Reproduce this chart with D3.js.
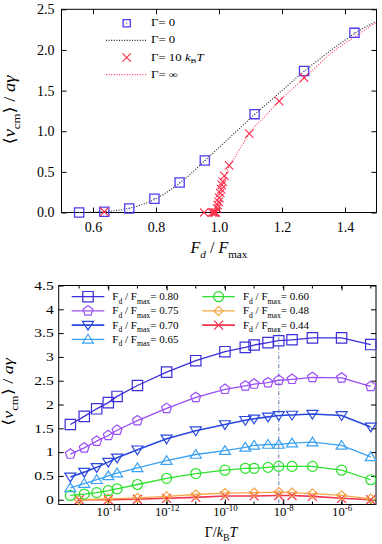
<!DOCTYPE html>
<html>
<head>
  <meta charset="utf-8">
  <style>
    body { margin: 0; background: #fff; }
    svg { display: block; }
    svg text { font-family: "Liberation Serif", "DejaVu Serif", serif; }
    .tick line { stroke: #000; }
  </style>
</head>
<body>
<div id="chart"></div>
<script src="https://d3js.org/d3.v7.min.js"></script>
<script>

  // ---- top panel: <v_cm> vs Fd/Fmax
  var topXTicks = [0.6, 0.8, 1.0, 1.2, 1.4];
  var topYTicks = [0, 0.5, 1.0, 1.5, 2.0, 2.5];

  var sqF = [0.556, 0.636, 0.715, 0.795, 0.875, 0.955, 1.113, 1.27, 1.43];
  var sqV = [0.0, 0.01, 0.05, 0.17, 0.37, 0.64, 1.21, 1.74, 2.21];

  var zeroLineF = [0.5, 0.55, 0.6, 0.65, 0.7, 0.75, 0.8, 0.85, 0.9, 0.95, 1.0, 1.05, 1.1, 1.15, 1.2, 1.25, 1.3, 1.35, 1.4, 1.45, 1.5];
  var zeroLineV = [0.0, 0.0, 0.003, 0.015, 0.04, 0.09, 0.17, 0.29, 0.44, 0.62, 0.80, 0.98, 1.16, 1.33, 1.5, 1.67, 1.83, 1.98, 2.12, 2.25, 2.35];

  var crossF = [0.636, 0.953, 0.978, 0.983, 0.987, 0.99, 0.994, 0.996, 0.999, 1.001, 1.004, 1.007, 1.009, 1.012, 1.017, 1.032, 1.096, 1.191, 1.27];
  var crossV = [0.01, 0.0, 0.0, 0.0, 0.0, 0.0, 0.05, 0.09, 0.13, 0.18, 0.24, 0.285, 0.34, 0.38, 0.45, 0.58, 0.97, 1.37, 1.66];

  var infLineF = [0.984, 0.99, 0.995, 1.0, 1.005, 1.01, 1.02, 1.032, 1.05, 1.064, 1.08, 1.096, 1.15, 1.191, 1.25, 1.3, 1.35, 1.43, 1.5];
  var infLineV = [0.0, 0.05, 0.11, 0.19, 0.27, 0.35, 0.45, 0.57, 0.68, 0.77, 0.87, 0.97, 1.2, 1.37, 1.58, 1.76, 1.94, 2.16, 2.34];

  // ---- bottom panel: <v_cm> vs Gamma/kBT
  var gammaFull = [5e-16, 1.5e-15, 4e-15, 1e-14, 2e-14, 1e-13, 1e-12, 1e-11, 1e-10, 5e-10, 1e-9, 3e-9, 7e-9, 2e-8, 1e-7, 1e-6, 1e-5];
  var gammaSparse = [1e-15, 1e-14, 1e-13, 1e-12, 1e-11, 1e-10, 1e-9, 7e-9, 2e-8, 1e-7, 1e-6, 1e-5];

  var v080 = [1.58, 1.75, 1.91, 2.04, 2.17, 2.40, 2.68, 2.92, 3.11, 3.20, 3.25, 3.30, 3.34, 3.36, 3.40, 3.40, 3.26];
  var v075 = [0.96, 1.09, 1.23, 1.35, 1.46, 1.66, 1.92, 2.15, 2.32, 2.39, 2.43, 2.46, 2.51, 2.53, 2.57, 2.56, 2.38];
  var v070 = [0.48, 0.58, 0.68, 0.79, 0.88, 1.05, 1.28, 1.45, 1.58, 1.67, 1.70, 1.74, 1.77, 1.78, 1.80, 1.77, 1.53];
  var v065 = [0.25, 0.34, 0.42, 0.50, 0.56, 0.67, 0.82, 0.95, 1.03, 1.10, 1.14, 1.16, 1.16, 1.19, 1.21, 1.14, 0.90];
  var v060 = [0.09, 0.12, 0.15, 0.19, 0.23, 0.32, 0.45, 0.55, 0.62, 0.66, 0.66, 0.68, 0.70, 0.70, 0.70, 0.62, 0.42];
  var v048 = [0.0, 0.02, 0.04, 0.07, 0.11, 0.14, 0.15, 0.16, 0.15, 0.13, 0.09, 0.02];
  var v044 = [0.0, 0.0, 0.01, 0.03, 0.05, 0.08, 0.08, 0.09, 0.09, 0.07, 0.03, 0.0];

  var botXMajor = [1e-14, 1e-12, 1e-10, 1e-8, 1e-6];
  var botXMinor = [1e-15, 1e-14, 1e-13, 1e-12, 1e-11, 1e-10, 1e-9, 1e-8, 1e-7, 1e-6, 1e-5];
  var botYTicks = [0, 0.5, 1, 1.5, 2, 2.5, 3, 3.5, 4, 4.5];
  var markedGamma = 7e-9;

  var W = 382, H = 544;

  var svg = d3.select("#chart").append("svg")
      .attr("width", W)
      .attr("height", H);

  // helpers -----------------------------------------------------------
  function rich(sel, parts, size) {
    var shift = 0;
    parts.forEach(function (p) {
      var target = p.sub ? size * 0.3 : (p.sup ? -size * 0.42 : 0);
      var ts = sel.append("tspan").text(p.t).attr("dy", target - shift);
      if (p.sub || p.sup) ts.attr("font-size", size * 0.7);
      if (p.it) ts.attr("font-style", "italic");
      shift = target;
    });
  }

  function stretch(sel, k) {
    sel.each(function () {
      var w = this.getComputedTextLength();
      this.setAttribute("textLength", w * k);
      this.setAttribute("lengthAdjust", "spacingAndGlyphs");
    });
  }

  function markerPath(type, s) {
    if (type === "square") return "M" + (-s) + "," + (-s) + "h" + 2 * s + "v" + 2 * s + "h" + (-2 * s) + "Z";
    if (type === "cross") return "M" + (-s) + "," + (-s) + "L" + s + "," + s + "M" + (-s) + "," + s + "L" + s + "," + (-s);
    if (type === "circle") return d3.symbol(d3.symbolCircle, Math.PI * s * s)();
    if (type === "diamond") return "M0," + (-s) + "L" + s + ",0L0," + s + "L" + (-s) + ",0Z";
    if (type === "triUp") return "M0," + (-s) + "L" + s * 1.1 + "," + s * 0.75 + "L" + (-s * 1.1) + "," + s * 0.75 + "Z";
    if (type === "triDown") return "M0," + s + "L" + s * 1.1 + "," + (-s * 0.75) + "L" + (-s * 1.1) + "," + (-s * 0.75) + "Z";
    if (type === "pentagon") {
      var pts = d3.range(5).map(function (i) {
        var a = -Math.PI / 2 + i * 2 * Math.PI / 5;
        return [s * Math.cos(a), s * Math.sin(a)];
      });
      return "M" + pts.join("L") + "Z";
    }
  }

  function frameAxes(g, x, y, xTicks, yTicks, box, xFmt, yFmt, opts) {
    var ax = g.append("g").attr("transform", "translate(0," + box.bottom + ")")
        .call(d3.axisBottom(x).tickValues(xTicks).tickSizeInner(-opts.tick).tickSizeOuter(0)
            .tickPadding(opts.xPad).tickFormat(xFmt));
    ax.select(".domain").remove();
    ax.selectAll("text").attr("font-size", opts.font);

    var axT = g.append("g").attr("transform", "translate(0," + box.top + ")")
        .call(d3.axisTop(x).tickValues(xTicks).tickSizeInner(-opts.tick).tickSizeOuter(0).tickFormat(""));
    axT.select(".domain").remove();

    var ay = g.append("g").attr("transform", "translate(" + box.left + ",0)")
        .call(d3.axisLeft(y).tickValues(yTicks).tickSizeInner(-5).tickSizeOuter(0)
            .tickPadding(opts.yPad).tickFormat(yFmt));
    ay.select(".domain").remove();
    ay.selectAll("text").attr("font-size", opts.font);

    var ayR = g.append("g").attr("transform", "translate(" + box.right + ",0)")
        .call(d3.axisRight(y).tickValues(yTicks).tickSizeInner(-5).tickSizeOuter(0).tickFormat(""));
    ayR.select(".domain").remove();

    g.append("rect")
        .attr("x", box.left).attr("y", box.top)
        .attr("width", box.right - box.left).attr("height", box.bottom - box.top)
        .attr("fill", "none").attr("stroke", "#000").attr("stroke-width", 1);
    return {bottom: ax, left: ay};
  }

  // ================= TOP PANEL =================
  var topBox = {left: 61.5, right: 376.5, top: 9.3, bottom: 212.5};
  var xTop = d3.scaleLinear().domain([0.5, 1.5]).range([topBox.left, topBox.right]);
  var yTop = d3.scaleLinear().domain([0, 2.5]).range([topBox.bottom, topBox.top]);

  var gTop = svg.append("g");

  frameAxes(gTop, xTop, yTop, topXTicks, topYTicks, topBox, d3.format(".1f"), d3.format(".1f"),
      {tick: 5, xPad: 10, yPad: 7, font: 14});

  var lineTop = d3.line()
      .x(function (d) { return xTop(d[0]); })
      .y(function (d) { return yTop(d[1]); })
      .curve(d3.curveMonotoneX);

  gTop.append("path")
      .datum(d3.zip(zeroLineF, zeroLineV))
      .attr("d", lineTop)
      .attr("fill", "none").attr("stroke", "#222").attr("stroke-width", 1.1)
      .attr("stroke-dasharray", "1,1.6");

  gTop.append("path")
      .datum(d3.zip(infLineF, infLineV))
      .attr("d", lineTop)
      .attr("fill", "none").attr("stroke", "#ff3a5a").attr("stroke-width", 1.1)
      .attr("stroke-dasharray", "1,1.6");

  var sqColor = "#4b3cf0", crColor = "#ff2a4a";

  var sqG = gTop.append("g").selectAll("g")
      .data(d3.zip(sqF, sqV))
      .join("g")
      .attr("transform", function (d) { return "translate(" + xTop(d[0]) + "," + yTop(d[1]) + ")"; });
  sqG.append("path").attr("d", markerPath("square", 4.6))
      .attr("fill", "none").attr("stroke", sqColor).attr("stroke-width", 1.3);
  sqG.append("circle").attr("r", 0.6).attr("fill", sqColor);

  gTop.append("g").selectAll("path")
      .data(d3.zip(crossF, crossV))
      .join("path")
      .attr("transform", function (d) { return "translate(" + xTop(d[0]) + "," + yTop(d[1]) + ")"; })
      .attr("d", markerPath("cross", 4.2))
      .attr("fill", "none").attr("stroke", crColor).attr("stroke-width", 1.1);

  // top legend
  var topLegend = [
    {kind: "square", label: [{t: "Γ= 0"}]},
    {kind: "blackdot", label: [{t: "Γ= 0"}]},
    {kind: "cross", label: [{t: "Γ= 10 "}, {t: "k", it: true}, {t: "B", sub: true}, {t: "T", it: true}]},
    {kind: "reddot", label: [{t: "Γ= ∞"}]}
  ];
  var tl = gTop.append("g").selectAll("g")
      .data(topLegend)
      .join("g")
      .attr("transform", function (d, i) { return "translate(0," + (23.3 + i * 17.1) + ")"; });
  tl.each(function (d) {
    var g = d3.select(this);
    if (d.kind === "square") {
      g.append("path").attr("transform", "translate(126.7,0)").attr("d", markerPath("square", 3.6))
          .attr("fill", "none").attr("stroke", sqColor).attr("stroke-width", 1.3);
      g.append("circle").attr("cx", 126.7).attr("r", 0.6).attr("fill", sqColor);
    } else if (d.kind === "cross") {
      g.append("path").attr("transform", "translate(126.7,0)").attr("d", markerPath("cross", 4.2))
          .attr("fill", "none").attr("stroke", crColor).attr("stroke-width", 1.1);
    } else {
      g.append("line").attr("x1", 106).attr("x2", 146)
          .attr("stroke", d.kind === "blackdot" ? "#222" : "#ff3a5a")
          .attr("stroke-width", 1.1).attr("stroke-dasharray", "1,1.6");
    }
    var t = g.append("text").attr("x", 151).attr("y", 3).attr("font-size", 9.5);
    rich(t, d.label, 9.5);
    stretch(t, 1.35);
  });

  // top axis labels
  var tyl = gTop.append("text")
      .attr("transform", "translate(15,110) rotate(-90)")
      .attr("text-anchor", "middle").attr("font-size", 16);
  rich(tyl, [{t: "⟨"}, {t: "v", it: true}, {t: "cm", sub: true}, {t: "⟩ / "}, {t: "aγ", it: true}], 16);
  stretch(tyl, 1.15);

  var txl = gTop.append("text")
      .attr("x", 219).attr("y", 253)
      .attr("text-anchor", "middle").attr("font-size", 16);
  rich(txl, [{t: "F", it: true}, {t: "d", it: true, sub: true}, {t: " / "}, {t: "F", it: true}, {t: "max", sub: true}], 16);

  // ================= BOTTOM PANEL =================
  var botBox = {left: 58.7, right: 376, top: 285.5, bottom: 504.5};
  var xBot = d3.scaleLog().domain([Math.pow(10, -15.7), Math.pow(10, -4.82)]).range([botBox.left, botBox.right]);
  var yBot = d3.scaleLinear().domain([-0.1, 4.5]).range([botBox.bottom, botBox.top]);

  var gBot = svg.append("g");

  // minor decade ticks (bottom and top)
  [botBox.bottom, botBox.top].forEach(function (yy, k) {
    gBot.append("g").selectAll("line")
        .data(botXMinor)
        .join("line")
        .attr("x1", function (d) { return xBot(d); })
        .attr("x2", function (d) { return xBot(d); })
        .attr("y1", yy)
        .attr("y2", yy + (k === 0 ? -3 : 3))
        .attr("stroke", "#000");
  });

  var botAxes = frameAxes(gBot, xBot, yBot, botXMajor, botYTicks, botBox,
      function () { return ""; }, function (d) { return String(d); },
      {tick: 5, xPad: 11, yPad: 5, font: 12});

  botAxes.bottom.selectAll(".tick text").each(function (d) {
    var t = d3.select(this).attr("font-size", 11.5);
    rich(t, [{t: "10"}, {t: String(Math.round(Math.log10(d))), sup: true}], 11.5);
    stretch(t, 1.1);
  });
  stretch(botAxes.left.selectAll(".tick text"), 1.3);

  // vertical marker line
  gBot.append("line")
      .attr("x1", xBot(markedGamma)).attr("x2", xBot(markedGamma))
      .attr("y1", yBot(3.6)).attr("y2", botBox.bottom)
      .attr("stroke", "#8090bb").attr("stroke-width", 1.2)
      .attr("stroke-dasharray", "4,2,1,2");

  var botSeries = [
    {ratio: "0.80", g: gammaFull, v: v080, color: "#3b2fd9", mark: "square", size: 5.2, w: 1.3},
    {ratio: "0.75", g: gammaFull, v: v075, color: "#9a4ff5", mark: "pentagon", size: 5.2, w: 1.3},
    {ratio: "0.70", g: gammaFull, v: v070, color: "#2a48dc", mark: "triDown", size: 5, w: 1.6},
    {ratio: "0.65", g: gammaFull, v: v065, color: "#3ca2f2", mark: "triUp", size: 5, w: 1.3},
    {ratio: "0.60", g: gammaFull, v: v060, color: "#2ee02e", mark: "circle", size: 5, w: 1.3},
    {ratio: "0.48", g: gammaSparse, v: v048, color: "#f5a545", mark: "diamond", size: 4.6, w: 1.3},
    {ratio: "0.44", g: gammaSparse, v: v044, color: "#f2334f", mark: "cross", size: 4.5, w: 1.6}
  ];

  var lineBot = d3.line()
      .x(function (d) { return xBot(d[0]); })
      .y(function (d) { return yBot(d[1]); });

  botSeries.slice().reverse().forEach(function (s) {
    var pts = d3.zip(s.g, s.v);
    gBot.append("path").datum(pts).attr("d", lineBot)
        .attr("fill", "none").attr("stroke", s.color).attr("stroke-width", s.w);
    gBot.append("g").selectAll("path")
        .data(pts)
        .join("path")
        .attr("transform", function (d) { return "translate(" + xBot(d[0]) + "," + yBot(d[1]) + ")"; })
        .attr("d", markerPath(s.mark, s.size))
        .attr("fill", "none").attr("stroke", s.color).attr("stroke-width", 1.2);
  });

  // bottom legend
  var lg = gBot.append("g").selectAll("g")
      .data(botSeries)
      .join("g")
      .attr("transform", function (d, i) {
        var col = i < 4 ? 0 : 1, row = i < 4 ? i : i - 4;
        return "translate(" + (col === 0 ? 71.7 : 202.3) + "," + (296.7 + row * 14.2) + ")";
      });
  lg.append("line").attr("x1", 0).attr("x2", 32.6)
      .attr("stroke", function (d) { return d.color; })
      .attr("stroke-width", function (d) { return d.w; });
  lg.append("path")
      .attr("transform", "translate(16.3,0)")
      .attr("d", function (d) { return markerPath(d.mark, d.size); })
      .attr("fill", "none").attr("stroke", function (d) { return d.color; }).attr("stroke-width", 1.2);
  lg.each(function (d) {
    var t = d3.select(this).append("text").attr("x", 40.6).attr("y", 3.5).attr("font-size", 11);
    rich(t, [{t: "F"}, {t: "d", sub: true}, {t: " / F"}, {t: "max", sub: true}, {t: "= " + d.ratio}], 11);
    stretch(t, 1.0);
  });

  // bottom axis labels
  var byl = gBot.append("text")
      .attr("transform", "translate(13,392) rotate(-90)")
      .attr("text-anchor", "middle").attr("font-size", 15);
  rich(byl, [{t: "⟨"}, {t: "v", it: true}, {t: "cm", sub: true}, {t: "⟩ / "}, {t: "aγ", it: true}], 15);
  stretch(byl, 1.2);

  var bxl = gBot.append("text")
      .attr("x", 221).attr("y", 537)
      .attr("text-anchor", "middle").attr("font-size", 14);
  rich(bxl, [{t: "Γ/"}, {t: "k", it: true}, {t: "B", sub: true}, {t: "T", it: true}], 14);

</script>
</body>
</html>
